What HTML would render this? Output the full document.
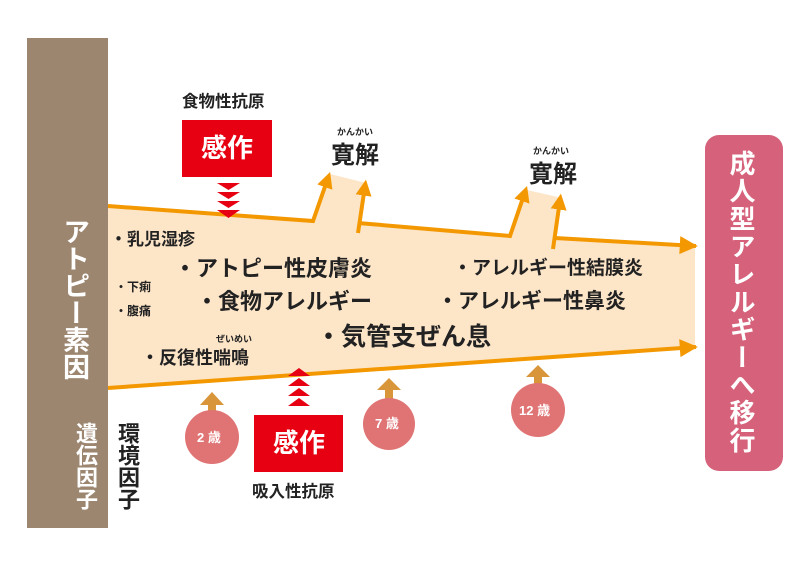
<!DOCTYPE html>
<html><head><meta charset="utf-8"><style>
body{margin:0;width:800px;height:568px;background:#fff;overflow:hidden;position:relative;font-family:"Liberation Sans","Noto Sans CJK JP",sans-serif;font-weight:bold;color:#222}
.t{position:absolute;white-space:nowrap;line-height:1}
.v{position:absolute;writing-mode:vertical-rl;line-height:1;white-space:nowrap}
</style></head><body>
<svg width="800" height="568" style="position:absolute;left:0;top:0">
<defs>
<marker id="ah" viewBox="0 0 10 10" refX="9" refY="5" markerWidth="5" markerHeight="4.5" orient="auto" markerUnits="strokeWidth"><path d="M0,0L10,5L0,10z" fill="#f39800"/></marker>
<marker id="sa" viewBox="0 0 10 10" refX="6" refY="5" markerWidth="4" markerHeight="4" orient="auto" markerUnits="strokeWidth"><path d="M0,0L10,5L0,10z" fill="#f39800"/></marker>
</defs>
<rect x="27" y="38" width="81" height="490" fill="#9c8670"/>
<polygon fill="#fde5c8" points="108,206 313,221 330,174 366,183 358,223 510,236 527,190 562,198 555,238 695,246 695,347 108,388"/>
<polyline points="108,206 313,221 328,178" fill="none" stroke="#f39800" stroke-width="4" marker-end="url(#sa)"/>
<line x1="358" y1="233" x2="365" y2="186" stroke="#f39800" stroke-width="4" marker-end="url(#sa)"/>
<polyline points="358,223 510,236 525,192" fill="none" stroke="#f39800" stroke-width="4" marker-end="url(#sa)"/>
<line x1="553" y1="249" x2="560" y2="200" stroke="#f39800" stroke-width="4" marker-end="url(#sa)"/>
<line x1="555" y1="238" x2="696" y2="246" stroke="#f39800" stroke-width="4" marker-end="url(#ah)"/>
<line x1="108" y1="388" x2="696" y2="347" stroke="#f39800" stroke-width="4" marker-end="url(#ah)"/>
<rect x="182" y="120" width="90" height="57" fill="#e60012"/>
<rect x="254" y="415" width="89" height="57" fill="#e60012"/>
<g fill="#e60012">
<polygon points="217,183 240,183 228.5,190"/><polygon points="217,192 240,192 228.5,199"/><polygon points="217,201 240,201 228.5,208"/><polygon points="217,210 240,210 228.5,218"/>
<polygon points="288,376 310,376 299,368"/><polygon points="288,386 310,386 299,378"/><polygon points="288,396 310,396 299,388"/><polygon points="288,406 310,406 299,398"/>
</g>
<g fill="#d9953a">
<polygon points="200,405 212,392 224,405 216,405 216,414 208,414 208,405"/>
<polygon points="377,390 389,378 401,390 393,390 393,400 385,400 385,390"/>
<polygon points="526,377 538,365 550,377 542,377 542,386 534,386 534,377"/>
</g>
<g fill="#e07474">
<circle cx="212" cy="437" r="27"/><circle cx="389" cy="424" r="26"/><circle cx="538" cy="410" r="27"/>
</g>
<rect x="705" y="135" width="78" height="336" rx="14" fill="#d6617a"/>
</svg>
<div class="v" style="left:60px;top:218px;font-size:27px;color:#fff">アトピー素因</div>
<div class="v" style="left:74px;top:422px;font-size:22px;color:#fff">遺伝因子</div>
<div class="v" style="left:116px;top:422px;font-size:22px">環境因子</div>
<div class="v" style="left:728px;top:150px;font-size:26px;letter-spacing:1.7px;color:#fff">成人型アレルギーへ移行</div>
<div class="t" style="left:182px;top:94px;font-size:16.5px">食物性抗原</div>
<div class="t" style="left:201px;top:135px;font-size:26px;color:#fff">感作</div>
<div class="t" style="left:273px;top:430px;font-size:26px;color:#fff">感作</div>
<div class="t" style="left:252px;top:484px;font-size:16.5px">吸入性抗原</div>
<div class="t" style="left:337px;top:128px;font-size:9px">かんかい</div>
<div class="t" style="left:331px;top:144px;font-size:24px">寛解</div>
<div class="t" style="left:533px;top:147px;font-size:9px">かんかい</div>
<div class="t" style="left:529px;top:163px;font-size:24px">寛解</div>
<div class="t" style="left:110px;top:231px;font-size:17px">・乳児湿疹</div>
<div class="t" style="left:174px;top:258px;font-size:22px">・アトピー性皮膚炎</div>
<div class="t" style="left:115px;top:281px;font-size:12px">・下痢</div>
<div class="t" style="left:115px;top:305px;font-size:12px">・腹痛</div>
<div class="t" style="left:196px;top:291px;font-size:22px">・食物アレルギー</div>
<div class="t" style="left:216px;top:335px;font-size:9px">ぜいめい</div>
<div class="t" style="left:141px;top:349px;font-size:18px">・反復性喘鳴</div>
<div class="t" style="left:316px;top:325px;font-size:25px">・気管支ぜん息</div>
<div class="t" style="left:453px;top:259px;font-size:19px">・アレルギー性結膜炎</div>
<div class="t" style="left:437px;top:291px;font-size:21px">・アレルギー性鼻炎</div>
<div class="t" style="left:197px;top:431px;font-size:13px;color:#fff">2 歳</div>
<div class="t" style="left:375px;top:417px;font-size:13px;color:#fff">7 歳</div>
<div class="t" style="left:519px;top:404px;font-size:13px;color:#fff">12 歳</div>
</body></html>
